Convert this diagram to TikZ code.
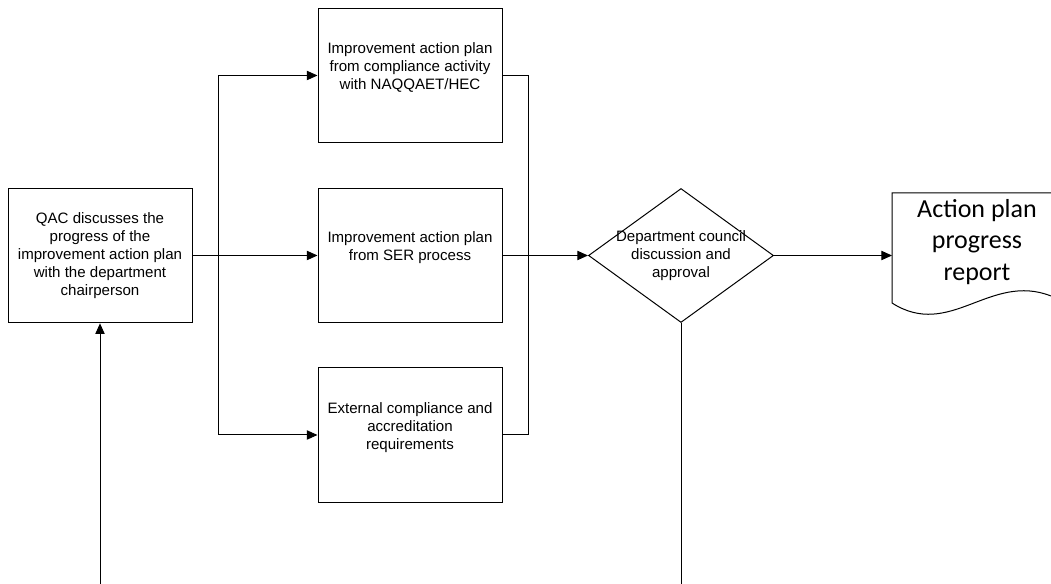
\documentclass[tikz,border=0pt]{standalone}
\usepackage{fontspec}
\setmainfont{Liberation Sans}
\newfontfamily\calibri{Carlito}
\usetikzlibrary{arrows.meta,shapes.geometric}
\begin{document}
\begin{tikzpicture}[x=0.75pt,y=-0.75pt,
  line width=0.75pt,
  box/.style={draw, rectangle, minimum width=138pt, minimum height=101pt, inner sep=0pt, align=center, font=\fontsize{11.3}{13.5}\selectfont},
  diam/.style={draw, diamond, minimum width=138.75pt, minimum height=100.5pt, inner sep=0pt},
  lbl/.style={align=center, font=\fontsize{11.3}{13.5}\selectfont, inner sep=0pt},
  doctext/.style={align=center, font=\calibri\fontsize{19.5}{23.5}\selectfont, inner sep=0pt},
  arr/.style={-{Triangle[length=8pt,width=7pt]}}]
\useasboundingbox (0,0) rectangle (1051,584);

\node[box] (q) at (100,255.5) {QAC discusses the\\progress of the\\improvement action plan\\with the department\\chairperson};
\node[box] (top) at (410,75.5) {Improvement action plan\\from compliance activity\\with NAQQAET/HEC\\\mbox{}};
\node[box] (mid) at (410,255.5) {Improvement action plan\\from SER process\\\mbox{}};
\node[box] (bot) at (410,435) {External compliance and\\accreditation\\requirements\\\mbox{}};

\node[diam] (dec) at (681,255.5) {};
\node[lbl] (dectext) at (dec.center) {Department council\\discussion and\\approval};

% document shape (cut off by the right edge)
\draw (1051,193) -- (892,193) -- (892,303)
  .. controls (950,340) and (990,272) .. (1051,296);
\coordinate (docL) at (892,255.5);
\node[doctext] (doc) at (977,242) {Action plan\\progress\\report};

% connectors
\draw[arr] (q.east) -- (mid.west);
\coordinate (bt) at (218,75.5);
\coordinate (bb) at (218,435);
\draw (bt) -- (bb);
\draw[arr] (bt) -- (top.west);
\draw[arr] (bb) -- (bot.west);
\draw (top.east) -- ++(26,0) |- (bot.east);
\draw[arr] (mid.east) -- (dec.west);
\draw[arr] (dec.east) -- (docL);
\coordinate (db) at (681,584);
\draw (dec.south) -- (db);
\coordinate (qb) at (100,584);
\draw[arr] (qb) -- (q.south);
\end{tikzpicture}
\end{document}
